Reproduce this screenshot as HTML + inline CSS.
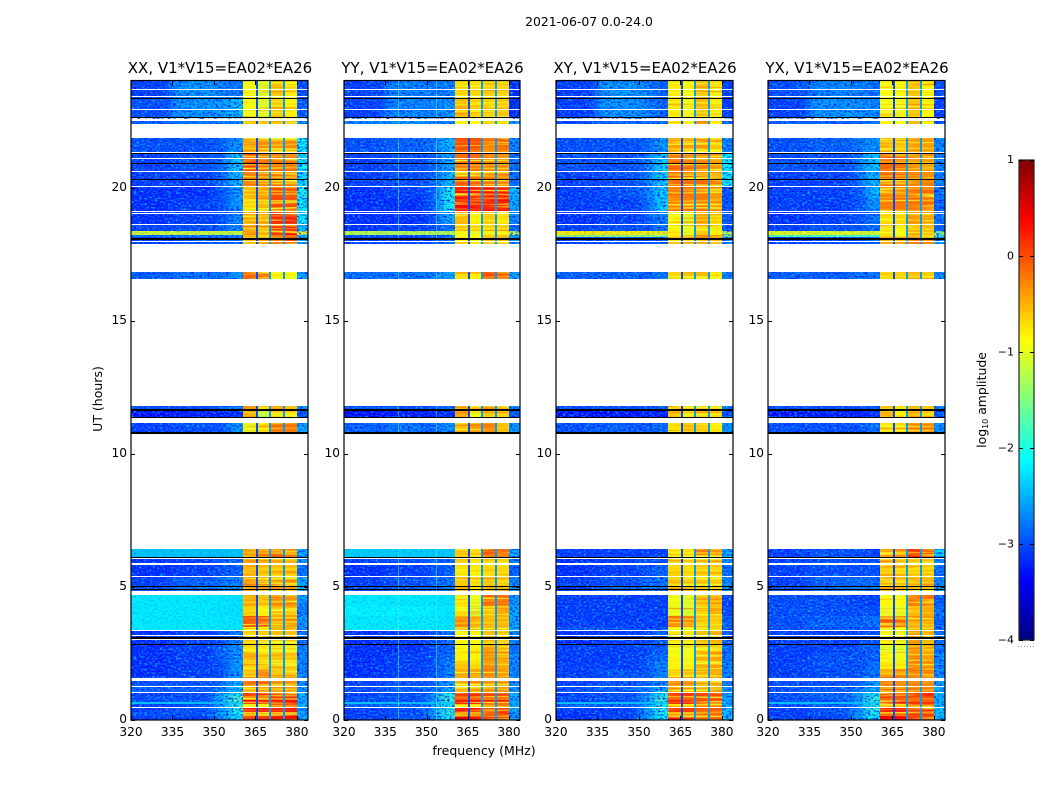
<!DOCTYPE html>
<html>
<head>
<meta charset="utf-8">
<title>2021-06-07 0.0-24.0</title>
<style>
html,body{margin:0;padding:0;background:#fff;width:1050px;height:800px;overflow:hidden}
svg{display:block}
text{font-family:"DejaVu Sans","Liberation Sans",sans-serif;fill:#000}
</style>
</head>
<body>
<svg id="figure" width="1050" height="800" viewBox="0 0 1050 800" xmlns="http://www.w3.org/2000/svg">
<defs>
<filter id="floor-blur" filterUnits="userSpaceOnUse" x="0" y="0" width="1050" height="800" color-interpolation-filters="sRGB"><feGaussianBlur stdDeviation="5 0"/></filter>
<filter id="grain-light" x="0" y="0" width="1" height="1" color-interpolation-filters="sRGB"><feTurbulence type="fractalNoise" baseFrequency="0.38 0.55" numOctaves="2" seed="7"/><feColorMatrix type="matrix" values="0 0 0 0 0.05  0 0 0 0 0.75  0 0 0 0 1  2.8 0 0 0 -1.3"/></filter>
<filter id="grain-dark" x="0" y="0" width="1" height="1" color-interpolation-filters="sRGB"><feTurbulence type="fractalNoise" baseFrequency="0.38 0.55" numOctaves="2" seed="23"/><feColorMatrix type="matrix" values="0 0 0 0 0  0 0 0 0 0.08  0 0 0 0 1  0 3 0 0 -1.4"/></filter>
<filter id="stripe-warm" x="0" y="0" width="1" height="1" color-interpolation-filters="sRGB"><feTurbulence type="fractalNoise" baseFrequency="0.012 0.5" numOctaves="2" seed="11"/><feColorMatrix type="matrix" values="0 0 0 0 1  0 0 0 0 0.3  0 0 0 0 0  2.2 0 0 0 -1.15"/></filter>
<filter id="stripe-cool" x="0" y="0" width="1" height="1" color-interpolation-filters="sRGB"><feTurbulence type="fractalNoise" baseFrequency="0.012 0.5" numOctaves="2" seed="31"/><feColorMatrix type="matrix" values="0 0 0 0 0.95  0 0 0 0 1  0 0 0 0 0.15  0 3 0 0 -1.35"/></filter>
</defs>
<text x="589" y="26" font-size="12.4" text-anchor="middle">2021-06-07 0.0-24.0</text>
<text x="0" y="0" font-size="12.5" text-anchor="middle" transform="translate(102 399) rotate(-90)">UT (hours)</text>
<text x="484" y="755" font-size="12.5" text-anchor="middle">frequency (MHz)</text>
<text x="0" y="0" font-size="12.4" text-anchor="middle" transform="translate(986 400) rotate(-90)">log<tspan font-size="8" dy="2">10</tspan><tspan dy="-2"> amplitude</tspan></text>
</svg>
<script>
// ---------- data ----------
const panelTitles = ["XX, V1*V15=EA02*EA26","YY, V1*V15=EA02*EA26","XY, V1*V15=EA02*EA26","YX, V1*V15=EA02*EA26"];
const xTicks = [320,335,350,365,380];
const yTicks = [0,5,10,15,20];
const colorTicks = [1,0,-1,-2,-3,-4];
// frequency bins (MHz): floor columns, band A, gap, band B, gap, band C, gap, band D, tail
const freqEdges = [320,335,350,355,360.4,365.1,365.8,369.8,370.5,374.9,375.6,379.9,384];
const gapBins = [5,7,9];
const gapLevels = [-3,-2.6,-2.6];
// time rows (hours)
const rowStart = [0,.15,.3,.45,.6,.66,.75,.9,1.05,1.3,1.6,1.9,2.2,2.5,2.85,3.37,3.5,3.9,4.3,4.68,5.05,5.4,5.85,6.12,10.73,11.34,11.65,16.56,17.88,18.14,18.22,18.35,18.6,19.1,19.6,20.05,20.6,21.3,22.4,22.64,23.35];
const rowEnd = [.15,.3,.45,.6,.66,.75,.9,1.05,1.3,1.6,1.9,2.2,2.5,2.85,3.37,3.5,3.9,4.3,4.68,5.05,5.4,5.85,6.12,6.43,11.17,11.65,11.78,16.83,18.14,18.22,18.35,18.6,19.1,19.6,20.05,20.6,21.3,21.85,22.5,23.35,24];
// log10 amplitude per row: f320-335, f335-350, f350-355, f355-360, A, B, C, D, tail
const xxAmp = [
[-3.1,-3.1,-2.7,-2.2,.15,.2,.3,.35,-2.5],[-3,-3,-2.6,-2.1,-.4,-.5,.05,.2,-2.5],[-3.1,-3,-2.6,-2,.25,.2,.2,.3,-2.6],[-3.1,-3,-2.6,-1.9,-1,-.9,-.1,.1,-2.4],
[-2.4,-2.5,-2.6,-1.7,.3,.3,.3,.35,-2.5],[-3,-2.9,-2.5,-1.7,.35,.3,.35,.4,-2.5],[-3,-3,-2.5,-1.8,-.3,-.3,.1,.15,-2.5],[-3.1,-3,-2.5,-2,.2,.25,.2,.25,-2.4],
[-2.9,-2.9,-2.7,-2.4,-.5,-.4,-.35,-.3,-2.6],[-3,-3,-2.8,-2.5,-.1,-.1,-.45,-.4,-2.7],[-3.2,-3.1,-3,-2.6,-.55,-.3,-.6,-.6,-2.7],[-3.2,-3.1,-3,-2.6,-.65,-.65,-.5,-.6,-2.7],
[-3.2,-3.1,-2.9,-2.6,-.45,-.65,-.55,-.6,-2.7],[-3.2,-3.1,-2.9,-2.6,-.75,-.75,-.55,-.65,-2.7],[-3.2,-3.1,-3,-2.7,-.65,-.65,-.55,-.55,-2.8],[-2.2,-2.2,-2.2,-2.3,-.8,-.9,-.55,-.45,-2.6],
[-2.2,-2.2,-2.2,-2.3,.05,0,-.45,-.4,-2.6],[-2.2,-2.2,-2.3,-2.4,-.6,-.8,-.5,-.45,-2.7],[-2.2,-2.2,-2.3,-2.4,-.45,-.6,-.35,-.35,-2.6],[-3,-2.8,-2.7,-2.6,-.3,-.35,-.35,-.4,-2.3],
[-3.1,-2.9,-2.8,-2.7,-.35,-.45,-.4,-.4,-2.5],[-3.2,-3.1,-3,-2.9,-.5,-.6,-.6,-.6,-2.8],[-3.2,-3.1,-2.9,-2.9,-.4,-.5,-.45,-.5,-2.6],[-2.4,-2.4,-2.4,-2.4,-.45,-.25,-.1,-.2,-2.5],
[-3.1,-3,-3,-2.6,-1,-.8,-.25,-.25,-2.5],[-3.4,-3.3,-3.3,-3.2,-.4,-1.3,-.7,-.7,-3],[-3,-3,-2.9,-2.8,-.3,-.7,-.4,-.6,-2.6],[-2.9,-2.8,-2.8,-2.6,-.1,-.2,-.8,-.9,-2.5],
[-3.1,-3,-2.9,-2.8,-.5,-.4,-.2,0,-2.5],[-2.8,-2.8,-2.8,-2.7,-.6,-.8,-.3,-.2,-2.4],[-1.1,-1.1,-1.2,-1.3,-.3,-.5,.1,.3,-1],[-3.1,-3,-2.9,-2.7,-.4,-.5,.1,.2,-2.4],
[-3.2,-3.1,-3,-2.7,-.5,-.5,.2,.3,-2.1],[-3.2,-3.1,-3,-2.6,-.7,-.5,.05,0,-2.1],[-3.2,-3.2,-3,-2.6,-.5,-.45,0,-.05,-2],[-3.1,-3.1,-2.9,-2.4,-.2,-.3,-.2,-.2,-2.2],
[-3.1,-3,-2.9,-2.3,0,-.2,-.2,-.2,-2.1],[-3,-3,-2.9,-2.6,-.4,-.3,-.35,-.3,-2.1],[-2.9,-2.8,-2.8,-2.7,-.5,-.6,-.5,-.6,-2.6],[-3,-2.6,-2.6,-2.4,-.95,-1.05,-.6,-.8,-2.9],[-3.1,-2.6,-2.7,-2.8,-.95,-1.05,-.6,-.8,-3]];
const yyAmp = [
[-3.1,-3,-2.7,-2,.5,.4,.2,.25,-2.6],[-3.1,-3,-2.6,-1.9,-.3,-.3,0,.1,-2.6],[-3.1,-3,-2.6,-1.9,.3,.3,-.1,.05,-2.5],[-2.9,-2.9,-2.5,-2,-.6,-.7,-.3,-.2,-2.5],
[-2.4,-2.5,-2.6,-1.9,.2,.2,0,.1,-2.5],[-3.1,-3,-2.7,-1.8,.45,.35,.2,.25,-2.5],[-3,-3,-2.6,-1.8,-.1,-.05,-.1,0,-2.6],[-3.1,-3,-2.7,-2,.15,.2,.1,.1,-2.5],
[-3,-2.9,-2.8,-2.5,-.5,-.4,-.35,-.35,-2.6],[-3.1,-3,-2.9,-2.6,-.3,-.25,-.3,-.35,-2.7],[-3.2,-3.1,-3,-2.7,-.5,-.5,-.25,-.35,-2.7],[-3.2,-3.1,-3,-2.7,-.6,-.7,-.3,-.4,-2.7],
[-3.2,-3.1,-3,-2.8,-.8,-.8,-.25,-.4,-2.7],[-3.2,-3.2,-3,-2.9,-.9,-.8,-.4,-.5,-2.8],[-3.2,-3.1,-3,-2.8,-.85,-.85,-.55,-.65,-2.7],[-2.2,-2.2,-2.2,-2.3,-1,-1,-.6,-.6,-2.5],
[-2.2,-2.15,-2.2,-2.3,-.45,-.6,-.55,-.5,-2.5],[-2.15,-2.15,-2.25,-2.35,-.9,-1.1,-.6,-.4,-2.5],[-2.2,-2.2,-2.3,-2.4,-.75,-1,-.15,-.15,-2.6],[-3,-2.9,-2.8,-2.7,-.5,-.75,-.5,-.5,-2.5],
[-3.1,-3,-2.9,-2.8,-.6,-.75,-.6,-.6,-2.7],[-3.2,-3.1,-3,-2.9,-.75,-.8,-.7,-.7,-2.9],[-3.1,-3,-2.9,-2.9,-.6,-.75,-.6,-.6,-2.8],[-2.35,-2.35,-2.4,-2.4,-.6,-.7,-.05,-.15,-2.5],
[-2.9,-2.8,-2.9,-2.6,-.55,-.4,-.25,-.55,-2.6],[-3.4,-3.3,-3.3,-3.2,-.35,-.95,-.6,-.6,-3],[-3,-3,-3,-2.8,-.35,-.7,-.4,-.5,-2.7],[-2.8,-2.8,-2.7,-2.5,-.7,-.8,.05,-.05,-2.5],
[-3.1,-3.1,-3,-2.8,-.8,-.9,-.5,-.5,-2.7],[-3,-3,-3,-2.9,-.9,-.9,-.6,-.5,-2.6],[-1.2,-1.3,-1.3,-1.4,-.9,-1,-.8,-.8,-1.1],[-3.2,-3.1,-3,-2.8,-.6,-.7,-.7,-.7,-2.9],
[-3.2,-3.2,-3,-2.5,-.5,-.8,-.6,-.75,-2.7],[-3.2,-3.2,-2.9,-2.05,.35,.3,.35,.3,-2.5],[-3.2,-3.1,-2.9,-2,.3,.25,.3,.25,-2.4],[-3.1,-3,-2.9,-2.4,-.1,-.15,-.2,-.25,-2.8],
[-3.1,-3,-2.9,-2.5,-.15,-.15,-.3,-.3,-2.8],[-3,-2.9,-2.8,-2.4,0,0,-.2,-.1,-2.7],[-2.7,-2.6,-2.7,-2.7,-.8,-.85,-.65,-.7,-2.6],[-3.1,-2.7,-2.7,-2.6,-.7,-.8,-.7,-.6,-3.2],[-3.1,-2.7,-2.8,-2.7,-.7,-.7,-.6,-.65,-3.2]];
const xyAmp = [
[-3.2,-3.1,-2.6,-2.1,.3,.25,-.05,-.05,-2.3],[-3.2,-3.1,-2.7,-2,-.5,-.5,-.15,-.1,-2.4],[-3.1,-3.1,-2.6,-2,.15,.1,-.1,-.05,-2.4],[-2.9,-2.9,-2.6,-2,-.7,-.7,-.3,-.3,-2.5],
[-2.4,-2.5,-2.6,-1.9,.2,.25,.05,.1,-2.5],[-3.1,-3,-2.7,-1.8,.35,.3,.25,.2,-2.5],[-3,-3,-2.6,-1.8,-.1,-.1,-.05,0,-2.5],[-3.1,-3,-2.7,-2.1,.1,.15,.05,.05,-2.6],
[-3,-2.9,-2.8,-2.5,-.35,-.35,-.35,-.3,-2.6],[-3.1,-3,-2.9,-2.7,-.25,-.25,-.45,-.4,-2.7],[-3.1,-3,-3,-2.7,-.7,-.6,-.5,-.45,-2.7],[-3.1,-3.1,-3,-2.7,-.8,-.8,-.45,-.4,-2.7],
[-3.1,-3.1,-3,-2.8,-.9,-.9,-.5,-.45,-2.8],[-3.1,-3.1,-3,-2.9,-.95,-.95,-.55,-.6,-2.8],[-3.2,-3.1,-3.1,-2.9,-.8,-.8,-.55,-.5,-2.9],[-3,-3,-3.1,-3,-.85,-.9,-.7,-.6,-2.9],
[-3.1,-3.1,-3.1,-3.1,-.25,-.3,-.65,-.65,-2.9],[-3.1,-3.1,-3.1,-3.1,-1,-1.1,-.7,-.45,-3],[-3.1,-3.1,-3.1,-3.1,-.95,-1.05,-.55,-.5,-3.1],[-3.1,-2.9,-2.8,-2.8,-.5,-.55,-.5,-.5,-2.6],
[-3.1,-3,-2.9,-2.8,-.55,-.6,-.5,-.5,-2.7],[-3.2,-3.1,-3,-2.9,-.65,-.7,-.6,-.6,-2.8],[-3.2,-3.1,-3,-3,-.5,-.6,-.5,-.5,-2.7],[-3.1,-3.1,-3.1,-3.1,-.75,-.7,-.2,-.35,-2.5],
[-3,-2.9,-3,-2.8,-.75,-.55,-.6,-.75,-2.6],[-3.4,-3.4,-3.3,-3.3,-.5,-.8,-.6,-.7,-3],[-3,-3,-3,-2.9,-.6,-.7,-.6,-.7,-2.7],[-2.9,-2.9,-2.9,-2.8,-.65,-.55,-.55,-.8,-2.7],
[-3.1,-3,-3,-2.9,-.5,-.4,-.25,-.35,-2.7],[-1.4,-1.5,-1.5,-1.6,-.9,-1,-.4,-.6,-1.3],[-.8,-.9,-1,-1.2,-.8,-1,-.6,-.8,-1.2],[-3.1,-3,-3,-2.8,-.85,-1,-.7,-.75,-3],
[-3.2,-3.1,-3,-2.7,-.9,-1.05,-.55,-.75,-2.9],[-3.1,-3.1,-2.9,-2.3,-.25,-.25,-.2,-.4,-3],[-3.1,-3,-2.8,-2.3,-.2,-.2,-.2,-.35,-3],[-3.1,-3,-2.8,-2.3,-.15,-.2,-.2,-.3,-2.1],
[-3,-3,-2.8,-2.3,-.1,-.2,-.25,-.4,-2.1],[-3,-3,-2.9,-2.6,-.4,-.4,-.35,-.65,-2.7],[-3,-2.9,-2.9,-2.8,-.8,-.9,-.3,-.8,-2.9],[-3.1,-2.6,-2.7,-2.9,-.75,-.95,-.55,-.8,-3.1],[-3.1,-2.6,-2.7,-2.9,-.8,-.9,-.55,-.8,-3.1]];
const yxAmp = [
[-3.1,-3.1,-2.6,-2.1,.4,.4,.15,.1,-2.4],[-3.1,-3,-2.6,-2,-.2,-.2,.1,.1,-2.4],[-3.1,-3,-2.7,-1.9,.25,.3,.05,.1,-2.3],[-3,-2.9,-2.6,-1.9,-.6,-.6,-.2,-.2,-2.4],
[-2.4,-2.5,-2.5,-1.8,.2,.3,.15,.15,-2.5],[-3,-3,-2.6,-1.8,.35,.35,.2,.2,-2.4],[-3,-2.9,-2.6,-1.9,.05,.1,.05,.05,-2.5],[-3,-2.9,-2.6,-2,.2,.25,.2,.2,-2.4],
[-3,-2.9,-2.8,-2.5,-.3,-.3,-.2,-.2,-2.5],[-3,-3,-2.9,-2.6,-.2,-.2,-.2,-.25,-2.6],[-3.1,-3,-3,-2.8,-.5,-.35,-.2,-.25,-2.7],[-3.1,-3,-3,-2.8,-.75,-.8,-.2,-.3,-2.7],
[-3.1,-3,-3,-2.9,-.85,-.95,-.25,-.4,-2.7],[-3.1,-3.1,-3,-2.9,-1.05,-1.05,-.3,-.5,-2.8],[-3.1,-3.1,-3.1,-3,-.9,-.95,-.35,-.55,-2.8],[-3,-3,-3,-3,-.8,-.85,-.5,-.55,-2.9],
[-3,-2.9,-2.9,-2.8,-.1,-.15,-.45,-.5,-2.9],[-3,-3,-3,-3,-1,-1.05,-.5,-.45,-2.8],[-3,-3,-3.1,-3.1,-.85,-.9,-.2,-.2,-2.9],[-3,-2.8,-2.7,-2.8,-.45,-.5,-.5,-.5,-2.5],
[-3.1,-2.9,-2.8,-2.9,-.5,-.55,-.5,-.5,-2.7],[-3.1,-3,-3,-3,-.6,-.65,-.65,-.6,-2.8],[-3.1,-3,-3,-3,-.5,-.6,-.55,-.55,-2.7],[-3.1,-3,-3,-3.1,-.45,-.35,.2,-.1,-2.3],
[-3,-3,-3,-2.8,-.7,-.65,-.3,-.3,-2.6],[-3.4,-3.3,-3.3,-3.2,-.5,-.85,-.55,-.65,-3],[-3,-3,-3,-2.9,-.55,-.75,-.5,-.6,-2.7],[-2.9,-2.9,-2.8,-2.8,-.7,-.65,-.5,-.6,-2.6],
[-3.1,-3,-3,-2.9,-.45,-.4,-.2,-.3,-2.6],[-1.7,-1.8,-1.9,-2,-.8,-.9,-.5,-.7,-1.6],[-1,-1.1,-1.2,-1.4,-.7,-.9,-.4,-.6,-1.4],[-3.1,-3,-3,-2.8,-.7,-.85,-.55,-.55,-2.9],
[-3.2,-3.1,-3,-2.8,-.7,-.7,-.35,-.4,-2.8],[-3.1,-3.1,-3,-2.6,-.25,-.2,-.15,-.15,-2.9],[-3.1,-3.1,-3,-2.4,-.25,-.25,-.15,-.15,-2.8],[-3.1,-3.1,-2.9,-2.4,-.2,-.25,-.25,-.3,-2.7],
[-3,-3,-2.8,-2.3,-.15,-.2,-.3,-.35,-2.7],[-3,-2.9,-2.8,-2.6,-.45,-.5,-.35,-.4,-2.7],[-2.9,-2.9,-2.9,-2.8,-.85,-.9,-.5,-.8,-3],[-3.1,-2.6,-2.6,-2.7,-.9,-.95,-.55,-.85,-3.1],[-3,-2.7,-2.7,-2.8,-.85,-.85,-.55,-.8,-3]];
const panelAmps = [xxAmp,yyAmp,xyAmp,yxAmp];
// flagged (white) and dead (black) time ranges, hours
const whiteStart = [.46,1.04,1.25,1.48,3,3.14,3.33,4.68,5.37,5.84,6.04,6.43,11.17,11.78,16.83,17.96,18.59,19,19.09,20.03,20.59,21.08,21.29,21.85,22.5,22.91,23.39,23.66];
const whiteEnd = [.5,1.07,1.29,1.58,3.04,3.18,3.37,4.85,5.41,5.88,6.08,10.73,11.34,16.56,17.88,18,18.62,19.04,19.13,20.07,20.63,21.12,21.33,22.4,22.57,22.95,23.43,23.7];
const blackStart = [2.82,3.05,4.88,5,6.1,10.73,11.34,11.6,18.04,20.28,20.88,21.24,22.6,23.33];
const blackEnd = [2.87,3.1,4.93,5.05,6.14,10.8,11.39,11.68,18.12,20.33,20.93,21.28,22.65,23.38];
// isolated bright channel seen in the YY panel (MHz)
const brightChannels = [[],[339.8,353.6],[],[]];

// ---------- scales ----------
const svg = document.getElementById('figure');
const NS = 'http://www.w3.org/2000/svg';
const axisLefts = [131,344,556,768];
const axisWidths = [177,176,177,177];
const axisTop = 81, axisBottom = 720;
const xScale = (f,p) => axisLefts[p] + (f-320)*axisWidths[p]/64;
const yScale = t => axisBottom - t*(axisBottom-axisTop)/24;
const cbarX = 1019, cbarW = 15, cbarTop = 160, cbarBottom = 640;
const cScale = v => cbarBottom - (v+4)*(cbarBottom-cbarTop)/5;
function clip(a){return Math.max(0,Math.min(1,a));}
function jet(v){
  const t = clip((v+4)/5);
  const r = clip(1.5-Math.abs(4*t-3)), g = clip(1.5-Math.abs(4*t-2)), b = clip(1.5-Math.abs(4*t-1));
  return 'rgb('+Math.round(r*255)+','+Math.round(g*255)+','+Math.round(b*255)+')';
}
function make(tag,parent,attrs){
  const e = document.createElementNS(NS,tag);
  for(const k in attrs) e.setAttribute(k,attrs[k]);
  parent.appendChild(e);
  return e;
}
function rectBetween(parent,x0,x1,y0,y1,fill){
  const X0=Math.round(x0),X1=Math.round(x1),Y0=Math.round(y0),Y1=Math.round(y1);
  return make('rect',parent,{x:X0,y:Math.min(Y0,Y1),width:Math.max(1,X1-X0),height:Math.max(1,Math.abs(Y1-Y0)),fill:fill,'shape-rendering':'crispEdges'});
}
function binValue(row,bin){
  const g = gapBins.indexOf(bin);
  if(g>=0) return gapLevels[g];
  const col = bin<5 ? bin : (bin===6?5:(bin===8?6:(bin===10?7:8)));
  return row[col];
}
const defs = svg.querySelector('defs');

// ---------- panels ----------
panelTitles.forEach((title,p)=>{
  const g = make('g',svg,{});
  
  
  const left = axisLefts[p], right = left+axisWidths[p];
  const bandStart = Math.round(xScale(freqEdges[4],p));
  const bandEnd = Math.round(xScale(freqEdges[11],p));
  const bg = rectBetween(g,left,right,axisTop,axisBottom,'#fff');
  
  
  const cp = make('clipPath',defs,{id:'floor-clip-'+p});
  make('rect',cp,{x:left,y:axisTop,width:bandStart-left,height:axisBottom-axisTop});
  const floorOuter = make('g',g,{'clip-path':'url(#floor-clip-'+p+')'});
  
  
  const floorInner = make('g',floorOuter,{filter:'url(#floor-blur)'});
  panelAmps[p].forEach((row,r)=>{
    for(let b=0;b<freqEdges.length-1;b++){
      if(gapBins.includes(b)) continue;
      let x0 = xScale(freqEdges[b],p), x1 = xScale(freqEdges[b+1],p);
      let host = g;
      if(b<4){
        host = floorInner;
        if(b===0) x0 -= 24;
        if(b===3) x1 += 24;
      }
      const cell = rectBetween(host,x0,x1,yScale(rowEnd[r]),yScale(rowStart[r]),jet(binValue(row,b)));
      
      
    }
  });
  [['grain-light',left,bandStart],['grain-dark',left,bandStart],['grain-light',bandEnd,right],['grain-dark',bandEnd,right],['stripe-warm',bandStart,bandEnd],['stripe-cool',bandStart,bandEnd]].forEach(o=>{
    const tex = make('rect',g,{x:o[1],y:axisTop,width:o[2]-o[1],height:axisBottom-axisTop,filter:'url(#'+o[0]+')',fill:'#000'});
    
    
  });
  panelAmps[p].forEach((row,r)=>{
    if(row[0] > -2.5){
      const veil = rectBetween(g,left,bandStart,yScale(rowEnd[r]),yScale(rowStart[r]),jet(row[0]));
      veil.setAttribute('fill-opacity','0.75');
      
      
    }
    gapBins.forEach(b=>{
      const cell = rectBetween(g,xScale(freqEdges[b],p),xScale(freqEdges[b+1],p),yScale(rowEnd[r]),yScale(rowStart[r]),jet(binValue(row,b)));
      
      
    });
  });
  brightChannels[p].forEach(f=>{
    rowStart.forEach((t,r)=>{
      const ch = rectBetween(g,xScale(f,p),xScale(f+.3,p),yScale(rowEnd[r]),yScale(t),'rgba(90,230,255,.55)');
      
      
    });
  });
  blackStart.forEach((t,i)=>{
    const line = rectBetween(g,left,right,yScale(blackEnd[i]),yScale(t),'#000');
    
    
  });
  whiteStart.forEach((t,i)=>{
    const line = rectBetween(g,left,right,yScale(whiteEnd[i]),yScale(t),'#fff');
    
    
  });
  const frame = make('rect',g,{x:left,y:axisTop-.5,width:axisWidths[p],height:axisBottom-axisTop+.5,fill:'none',stroke:'#000','stroke-width':1.2});
  
  
  xTicks.forEach(f=>{
    const x = Math.round(xScale(f,p))+.5;
    const t1 = make('line',g,{x1:x,x2:x,y1:axisBottom,y2:axisBottom-4,stroke:'#000'});
    
    
    const t2 = make('line',g,{x1:x,x2:x,y1:axisTop,y2:axisTop+4,stroke:'#000'});
    
    
    const lab = make('text',g,{x:xScale(f,p),y:736,'font-size':12.2,'text-anchor':'middle'});
    lab.textContent = f;
    
    
  });
  yTicks.forEach(v=>{
    const y = Math.round(yScale(v))+.5;
    const t1 = make('line',g,{x1:left,x2:left+4,y1:y,y2:y,stroke:'#000'});
    
    
    const t2 = make('line',g,{x1:right,x2:right-4,y1:y,y2:y,stroke:'#000'});
    
    
    const lab = make('text',g,{x:left-4,y:y+2.5,'font-size':12.2,'text-anchor':'end'});
    lab.textContent = v;
    
    
  });
  const tt = make('text',g,{x:left+axisWidths[p]/2+.5,y:73,'font-size':15,'text-anchor':'middle'});
  tt.textContent = title;
  
  
});

// ---------- colorbar ----------
const cb = make('g',svg,{});


for(let y=cbarTop;y<cbarBottom;y++){
  const v = 1-(y-cbarTop+.5)*5/(cbarBottom-cbarTop);
  const s = rectBetween(cb,cbarX,cbarX+cbarW,y,y+1,jet(v));
  
  
}
const cf = make('rect',cb,{x:cbarX,y:cbarTop,width:cbarW,height:cbarBottom-cbarTop,fill:'none',stroke:'#222','stroke-width':1.2});


colorTicks.forEach(v=>{
  const y = Math.round(cScale(v))+.5;
  const lab = make('text',cb,{x:1014,y:y+(v===1?2.5:3),'font-size':11,'text-anchor':'end'});
  lab.textContent = String(v).replace('-','\u2212');
  
  
  const t1 = make('line',cb,{x1:cbarX,x2:cbarX+4,y1:y,y2:y,stroke:'#000'});
  
  
  const t2 = make('line',cb,{x1:cbarX+cbarW,x2:cbarX+cbarW-4,y1:y,y2:y,stroke:'#000'});
  
  
});
const dots = make('line',cb,{x1:cbarX-1,x2:cbarX+cbarW,y1:646.5,y2:646.5,stroke:'#888','stroke-width':1,'stroke-dasharray':'1 2'});


</script>
</body>
</html>
